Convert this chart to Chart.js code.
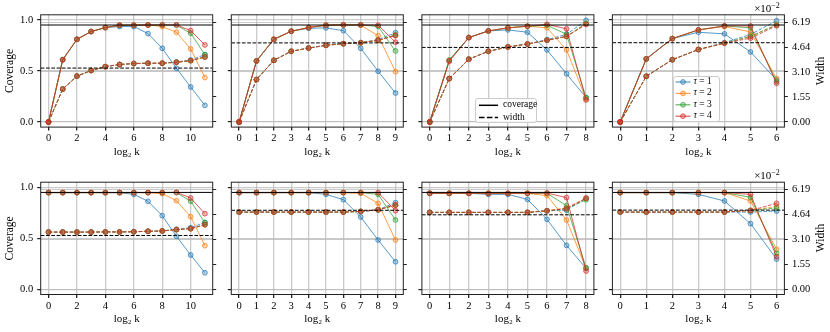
<!DOCTYPE html>
<html>
<head>
<meta charset="utf-8">
<script src="https://cdn.jsdelivr.net/npm/chart.js@4.4.1/dist/chart.umd.min.js"></script>
<style>
  body { margin: 0; background: #fff; }
  #fig { position: relative; width: 830px; height: 332px; overflow: hidden; font-family: "Liberation Serif", serif; color: #000; }
  #fig canvas { position: absolute; left: 0; top: 0; }
  .txt { position: absolute; white-space: nowrap; line-height: 1; }
  .legend { position: absolute; background: rgba(255,255,255,0.85); border: 1px solid #ccc; border-radius: 3px; box-sizing: border-box; }
  .legend svg { position: absolute; left: 0; top: 0; }
  .legend span { position: absolute; font-size: 9.5px; line-height: 1; transform: translateY(-50%); white-space: nowrap; }
</style>
</head>
<body>
<div id="fig"></div>
<script>
// ---- data ----
var tauNames = ['1', '2', '3', '4'];
var tauColors = ['31,119,180', '255,127,14', '44,160,44', '214,39,40'];
var coverageTarget = 0.95;
var coverageTicks = [0, 0.5, 1.0];
var widthTicks = [0, 1.55, 3.10, 4.64, 6.19];   // x 1e-2
var widthTarget = [3.34, 4.90, 4.62, 4.91];     // one per column, x 1e-2

var logK = [
  [0, 1, 2, 3, 4, 5, 6, 7, 8, 9, 10, 11],
  [0, 1, 2, 3, 4, 5, 6, 7, 8, 9],
  [0, 1, 2, 3, 4, 5, 6, 7, 8],
  [0, 1, 2, 3, 4, 5, 6]
];
var xTicks = [
  [0, 2, 4, 6, 8, 10],
  [0, 1, 2, 3, 4, 5, 6, 7, 8, 9],
  [0, 1, 2, 3, 4, 5, 6, 7, 8],
  [0, 1, 2, 3, 4, 5, 6]
];

// top row
var covTop1 = [
  [0, 0.61, 0.81, 0.886, 0.925, 0.935, 0.935, 0.866, 0.722, 0.526, 0.343, 0.163],
  [0, 0.61, 0.81, 0.886, 0.925, 0.948, 0.948, 0.950, 0.935, 0.879, 0.716, 0.435],
  [0, 0.61, 0.81, 0.886, 0.925, 0.948, 0.948, 0.950, 0.950, 0.948, 0.869, 0.660],
  [0, 0.61, 0.81, 0.886, 0.925, 0.948, 0.948, 0.950, 0.951, 0.951, 0.895, 0.755]
];
var widTop1 = [
  [0, 2.04, 2.84, 3.19, 3.43, 3.56, 3.62, 3.64, 3.64, 3.72, 3.84, 4.17],
  [0, 2.04, 2.84, 3.19, 3.43, 3.56, 3.62, 3.64, 3.64, 3.70, 3.80, 4.03],
  [0, 2.04, 2.84, 3.19, 3.43, 3.56, 3.62, 3.64, 3.64, 3.70, 3.80, 4.03],
  [0, 2.04, 2.84, 3.19, 3.43, 3.56, 3.62, 3.64, 3.64, 3.70, 3.80, 4.02]
];
var covTop2 = [
  [0, 0.598, 0.81, 0.889, 0.918, 0.922, 0.895, 0.722, 0.497, 0.284],
  [0, 0.598, 0.81, 0.889, 0.925, 0.948, 0.951, 0.948, 0.846, 0.493],
  [0, 0.598, 0.81, 0.889, 0.925, 0.948, 0.951, 0.951, 0.935, 0.696],
  [0, 0.598, 0.81, 0.889, 0.925, 0.948, 0.951, 0.951, 0.948, 0.781]
];
var widTop2 = [
  [0, 2.63, 3.82, 4.38, 4.58, 4.75, 4.85, 4.91, 5.10, 5.53],
  [0, 2.63, 3.82, 4.38, 4.58, 4.75, 4.85, 4.91, 5.06, 5.38],
  [0, 2.63, 3.82, 4.38, 4.58, 4.75, 4.85, 4.91, 5.06, 5.40],
  [0, 2.63, 3.82, 4.38, 4.58, 4.75, 4.85, 4.91, 5.06, 5.35]
];
var covTop3 = [
  [0, 0.598, 0.827, 0.892, 0.902, 0.879, 0.706, 0.471, 0.239],
  [0, 0.598, 0.827, 0.892, 0.922, 0.938, 0.922, 0.706, 0.225],
  [0, 0.608, 0.827, 0.892, 0.922, 0.938, 0.948, 0.859, 0.239],
  [0, 0.598, 0.827, 0.892, 0.922, 0.938, 0.957, 0.912, 0.216]
];
var widTop3 = [
  [0, 2.69, 3.89, 4.38, 4.65, 4.83, 5.10, 5.43, 6.29],
  [0, 2.69, 3.89, 4.38, 4.65, 4.83, 5.06, 5.30, 6.10],
  [0, 2.69, 3.89, 4.38, 4.65, 4.83, 5.06, 5.30, 6.10],
  [0, 2.69, 3.89, 4.38, 4.65, 4.83, 5.06, 5.30, 6.04]
];
var covTop4 = [
  [0, 0.618, 0.817, 0.879, 0.863, 0.686, 0.412],
  [0, 0.618, 0.817, 0.902, 0.935, 0.882, 0.425],
  [0, 0.618, 0.817, 0.902, 0.941, 0.922, 0.395],
  [0, 0.618, 0.817, 0.902, 0.941, 0.941, 0.379]
];
var widTop4 = [
  [0, 2.83, 3.86, 4.49, 4.92, 5.42, 6.27],
  [0, 2.83, 3.86, 4.49, 4.88, 5.30, 6.02],
  [0, 2.83, 3.86, 4.49, 4.88, 5.30, 6.02],
  [0, 2.83, 3.86, 4.49, 4.88, 5.19, 5.96]
];

// bottom row
var covBot1 = [
  [0.948, 0.948, 0.948, 0.948, 0.948, 0.948, 0.931, 0.863, 0.722, 0.520, 0.337, 0.163],
  [0.948, 0.948, 0.948, 0.948, 0.948, 0.948, 0.948, 0.948, 0.938, 0.869, 0.712, 0.428],
  [0.948, 0.948, 0.948, 0.948, 0.948, 0.948, 0.948, 0.948, 0.948, 0.948, 0.863, 0.654],
  [0.948, 0.948, 0.948, 0.948, 0.948, 0.948, 0.948, 0.948, 0.948, 0.951, 0.895, 0.742]
];
var widBot1 = [
  [3.55, 3.55, 3.55, 3.55, 3.56, 3.56, 3.57, 3.60, 3.62, 3.72, 3.82, 4.15],
  [3.55, 3.55, 3.55, 3.55, 3.56, 3.56, 3.57, 3.60, 3.62, 3.70, 3.76, 4.01],
  [3.55, 3.55, 3.55, 3.55, 3.56, 3.56, 3.57, 3.60, 3.62, 3.70, 3.76, 4.01],
  [3.55, 3.55, 3.55, 3.55, 3.56, 3.56, 3.57, 3.60, 3.62, 3.70, 3.76, 4.01]
];
var covBot2 = [
  [0.948, 0.948, 0.948, 0.948, 0.948, 0.931, 0.879, 0.709, 0.484, 0.271],
  [0.948, 0.948, 0.948, 0.948, 0.948, 0.948, 0.948, 0.941, 0.843, 0.484],
  [0.948, 0.948, 0.948, 0.948, 0.948, 0.948, 0.948, 0.948, 0.931, 0.680],
  [0.948, 0.948, 0.948, 0.948, 0.948, 0.948, 0.948, 0.948, 0.948, 0.771]
];
var widBot2 = [
  [4.79, 4.79, 4.79, 4.79, 4.79, 4.79, 4.79, 4.83, 4.93, 5.37],
  [4.79, 4.79, 4.79, 4.79, 4.79, 4.79, 4.79, 4.83, 4.93, 5.20],
  [4.79, 4.79, 4.79, 4.79, 4.79, 4.79, 4.79, 4.83, 4.93, 5.22],
  [4.79, 4.79, 4.79, 4.79, 4.79, 4.79, 4.79, 4.83, 4.93, 5.24]
];
var covBot3 = [
  [0.941, 0.941, 0.941, 0.931, 0.931, 0.882, 0.686, 0.431, 0.206],
  [0.941, 0.941, 0.941, 0.941, 0.941, 0.941, 0.918, 0.680, 0.206],
  [0.941, 0.941, 0.941, 0.941, 0.941, 0.941, 0.941, 0.820, 0.212],
  [0.941, 0.941, 0.941, 0.941, 0.941, 0.941, 0.944, 0.899, 0.180]
];
var widBot3 = [
  [4.77, 4.77, 4.77, 4.77, 4.77, 4.77, 4.87, 4.90, 5.65],
  [4.77, 4.77, 4.77, 4.77, 4.77, 4.77, 4.87, 5.05, 5.65],
  [4.77, 4.77, 4.77, 4.77, 4.77, 4.77, 4.87, 5.00, 5.55],
  [4.77, 4.77, 4.77, 4.77, 4.77, 4.77, 4.87, 5.00, 5.65]
];
var covBot4 = [
  [0.948, 0.948, 0.948, 0.931, 0.866, 0.644, 0.297],
  [0.948, 0.948, 0.948, 0.948, 0.948, 0.866, 0.392],
  [0.948, 0.948, 0.948, 0.948, 0.948, 0.902, 0.353],
  [0.948, 0.948, 0.948, 0.948, 0.948, 0.931, 0.320]
];
var widBot4 = [
  [4.79, 4.79, 4.79, 4.79, 4.79, 4.79, 4.85],
  [4.79, 4.79, 4.79, 4.79, 4.79, 4.89, 5.14],
  [4.79, 4.79, 4.79, 4.79, 4.79, 4.89, 5.04],
  [4.79, 4.79, 4.79, 4.79, 4.79, 4.89, 5.33]
];

var panels = [
  [covTop1, widTop1], [covTop2, widTop2], [covTop3, widTop3], [covTop4, widTop4],
  [covBot1, widBot1], [covBot2, widBot2], [covBot3, widBot3], [covBot4, widBot4]
];

// ---- layout ----
var W = 830, H = 332;
var colLeft = [40.7, 231.3, 421.9, 612.4];
var boxW = 172;
var rowTop = [14.8, 182.2];
var boxH = 112.3;
var LW = 40, RW = 46, XH = 34;   // axis box sizes
var serif = '"Liberation Serif", serif';
var gridColor = 'rgba(185,185,185,0.75)';

var fig = document.getElementById('fig');

// black frame round each axes
var framePlugin = {
  id: 'frame',
  afterDatasetsDraw: function(chart) {
    var a = chart.chartArea, ctx = chart.ctx;
    ctx.save();
    ctx.strokeStyle = '#222';
    ctx.lineWidth = 1;
    ctx.strokeRect(a.left, a.top, a.right - a.left, a.bottom - a.top);
    ctx.restore();
  }
};

function setTicks(values) {
  return function(scale) {
    scale.ticks = values.map(function(v) { return { value: v }; });
  };
}

function makePanel(idx) {
  var row = Math.floor(idx / 4), col = idx % 4;
  var ks = logK[col];
  var cov = panels[idx][0], wid = panels[idx][1];
  var n = ks[ks.length - 1];
  var xmin = -0.05 * n, xmax = n + 0.05 * n;

  var canvas = document.createElement('canvas');
  canvas.width = W; canvas.height = H;
  fig.appendChild(canvas);

  var sets = [];
  for (var t = 0; t < 4; t++) {
    var c = tauColors[t];
    sets.push({
      label: 'cov' + t, yAxisID: 'y',
      data: ks.map(function(k, j) { return { x: k, y: cov[t][j] }; }),
      borderColor: 'rgba(' + c + ',0.75)', borderWidth: 1,
      pointRadius: 2.4, pointBorderWidth: 0.9,
      pointBackgroundColor: 'rgba(' + c + ',0.3)', pointBorderColor: 'rgba(' + c + ',0.8)'
    });
    sets.push({
      label: 'wid' + t, yAxisID: 'y2',
      data: ks.map(function(k, j) { return { x: k, y: wid[t][j] }; }),
      borderColor: 'rgba(' + c + ',0.75)', borderWidth: 1, borderDash: [3.7, 1.6],
      pointRadius: 2.4, pointBorderWidth: 0.9,
      pointBackgroundColor: 'rgba(' + c + ',0.3)', pointBorderColor: 'rgba(' + c + ',0.8)'
    });
  }
  // reference lines
  sets.push({
    label: 'covTarget', yAxisID: 'y',
    data: [{ x: xmin, y: coverageTarget }, { x: xmax, y: coverageTarget }],
    borderColor: '#000', borderWidth: 1, pointRadius: 0
  });
  sets.push({
    label: 'widTarget', yAxisID: 'y2',
    data: [{ x: xmin, y: widthTarget[col] }, { x: xmax, y: widthTarget[col] }],
    borderColor: '#000', borderWidth: 1, borderDash: [3.7, 1.6], pointRadius: 0
  });
  // chart.js paints dataset 0 last, so reverse to keep matplotlib order
  sets.reverse();

  var L = colLeft[col], T = rowTop[row];
  new Chart(canvas, {
    type: 'line',
    data: { datasets: sets },
    plugins: [framePlugin],
    options: {
      responsive: false, animation: false, devicePixelRatio: 1, events: [],
      layout: { padding: { left: L - LW, right: W - (L + boxW) - RW, top: T, bottom: H - (T + boxH) - XH } },
      plugins: { legend: { display: false }, tooltip: { enabled: false } },
      scales: {
        x: {
          type: 'linear', min: xmin, max: xmax, bounds: 'data',
          afterBuildTicks: setTicks(xTicks[col]),
          afterFit: function(s) { s.height = XH; },
          grid: { color: gridColor, lineWidth: 1.3, tickColor: '#222', tickLength: 3.5 },
          border: { display: false },
          ticks: { font: { family: serif, size: 10.5 }, color: '#000', padding: 1.5, maxRotation: 0,
                   callback: function(v) { return String(v); } },
          title: { display: true, text: 'log\u2082 k', font: { family: serif, size: 11 }, color: '#000',
                   padding: { top: 0, bottom: 2.4 } }
        },
        y: {
          type: 'linear', position: 'left', min: -0.05, max: 1.05, bounds: 'data',
          afterBuildTicks: setTicks(coverageTicks),
          afterFit: function(s) { s.width = LW; },
          grid: { color: gridColor, lineWidth: 1.2, tickColor: '#222', tickLength: 3.5 },
          border: { display: false },
          ticks: { display: col === 0, font: { family: serif, size: 10.5 }, color: '#000', padding: 4,
                   callback: function(v) { return v.toFixed(1); } },
          title: { display: col === 0, text: 'Coverage', font: { family: serif, size: 11.5 }, color: '#000',
                   padding: { top: 2.4, bottom: 0 } }
        },
        y2: {
          type: 'linear', position: 'right', min: -0.316, max: 6.64, bounds: 'data',
          afterBuildTicks: setTicks(widthTicks),
          afterFit: function(s) { s.width = RW; },
          grid: {
            // only the 0, 3.10 and 6.19 lines show inside the axes in the reference
            color: function(ctx) { return ctx.index % 2 === 0 ? gridColor : 'rgba(0,0,0,0)'; },
            lineWidth: 1, tickColor: '#222', tickLength: 3.5
          },
          border: { display: false },
          ticks: { display: col === 3, font: { family: serif, size: 10.5 }, color: '#000', padding: 4,
                   callback: function(v) { return v.toFixed(2); } }
        }
      }
    }
  });
}

for (var i = 0; i < 8; i++) makePanel(i);

// ---- text that chart.js cannot rotate / format the same way ----
function addText(html, x, y, size, rot) {
  var d = document.createElement('div');
  d.className = 'txt';
  d.innerHTML = html;
  d.style.fontSize = size + 'px';
  d.style.left = x + 'px';
  d.style.top = y + 'px';
  d.style.transform = 'translate(-50%,-50%)' + (rot ? ' rotate(' + rot + 'deg)' : '');
  fig.appendChild(d);
}
for (var r = 0; r < 2; r++) {
  var midY = rowTop[r] + boxH / 2;
  addText('Width', 821, midY, 11.5, -90);
  addText('\u00d710<sup style="font-size:8px">\u22122</sup>', 767, rowTop[r] - 7, 11, 0);
}

// legend: line styles
var lg1 = document.createElement('div');
lg1.className = 'legend';
lg1.style.cssText = 'left:475px;top:98px;width:62px;height:25px;';
lg1.innerHTML =
  '<svg width="62" height="25">' +
  '<line x1="3" y1="6.3" x2="22" y2="6.3" stroke="#000" stroke-width="1.5"/>' +
  '<line x1="3" y1="18.5" x2="22" y2="18.5" stroke="#000" stroke-width="1.5" stroke-dasharray="5.5,2.4"/>' +
  '</svg>' +
  '<span style="left:27px;top:6.3px">coverage</span>' +
  '<span style="left:27px;top:18.5px">width</span>';
fig.appendChild(lg1);

// legend: tau colours
var lg2 = document.createElement('div');
lg2.className = 'legend';
lg2.style.cssText = 'left:672.5px;top:76px;width:47px;height:46px;';
var svg = '<svg width="47" height="46">';
var spans = '';
for (var t2 = 0; t2 < 4; t2++) {
  var yy = 5 + t2 * 11.4;
  var cc = tauColors[t2];
  svg += '<line x1="1.5" y1="' + yy + '" x2="16.5" y2="' + yy + '" stroke="rgba(' + cc + ',0.75)" stroke-width="1.2"/>';
  svg += '<circle cx="9" cy="' + yy + '" r="2.4" fill="rgba(' + cc + ',0.3)" stroke="rgba(' + cc + ',0.8)" stroke-width="0.9"/>';
  spans += '<span style="left:20px;top:' + yy + 'px"><i>\u03c4</i> = ' + tauNames[t2] + '</span>';
}
svg += '</svg>';
lg2.innerHTML = svg + spans;
fig.appendChild(lg2);
</script>
</body>
</html>
